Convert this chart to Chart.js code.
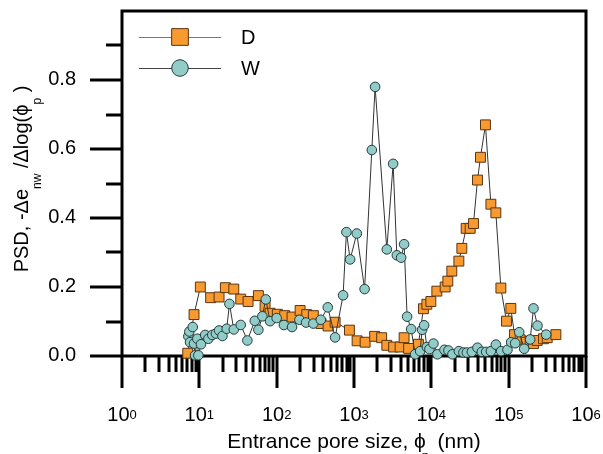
<!DOCTYPE html>
<html>
<head>
<meta charset="utf-8">
<script src="https://cdn.jsdelivr.net/npm/chart.js@4.4.1/dist/chart.umd.min.js"></script>
<style>html,body{margin:0;padding:0;background:#fff}canvas{display:block}</style>
</head>
<body>
<canvas id="psd" width="603" height="454"></canvas>
<script>
// ══════════════════════════════════════
//  DATA  (pore size in nm, PSD values)
// ══════════════════════════════════════
const dX=[7.08,8.54,10.3,14.0,18.0,21.7,27.9,34.3,42.7,58.0,70.8,82.2,102,127,158,201,245,298,375,462,570,873,1097,1393,1849,2277,2656,3252,3948,4446,5085,6808,7904,8750,9860,11780,15090,16340,18400,22700,24800,28200,31800,35100,39500,43200,50100,58900,68300,79300,93700,106700,118900,140900,168400,189700,209400,233800,282000,315000,408000];
const dY=[0.008,0.12,0.20,0.169,0.171,0.198,0.194,0.165,0.158,0.175,0.144,0.124,0.121,0.117,0.113,0.132,0.12,0.117,0.094,0.087,0.098,0.075,0.044,0.04,0.057,0.053,0.031,0.026,0.026,0.053,0.022,0.034,0.137,0.15,0.158,0.188,0.2,0.217,0.246,0.275,0.312,0.37,0.37,0.384,0.51,0.576,0.67,0.44,0.415,0.197,0.101,0.138,0.062,0.047,0.04,0.043,0.036,0.045,0.05,0.053,0.062];
const wX=[7.21,7.43,7.58,8.22,8.54,8.80,9.42,9.71,10.5,11.9,13.1,14.7,16.4,18.0,19.9,22.6,24.5,27.9,34.3,41.8,52.1,58.0,65.3,72.3,82.2,100,124,158,197,240,298,372,458,570,723,798,891,1087,1371,1700,1875,2656,3206,3580,4068,4446,4863,5481,6170,7160,7600,8070,8750,9450,10650,11990,14780,16630,18750,22700,26000,28800,33400,39500,45000,51200,58900,68300,80000,96500,107700,121400,136800,158700,189700,209400,236000,305500];
const wY=[0.057,0.071,0.04,0.084,0.036,0.002,0.05,0.002,0.034,0.061,0.05,0.061,0.065,0.074,0.058,0.079,0.151,0.077,0.09,0.045,0.102,0.076,0.115,0.164,0.101,0.11,0.09,0.084,0.105,0.097,0.094,0.105,0.141,0.054,0.176,0.359,0.28,0.355,0.194,0.597,0.78,0.309,0.557,0.292,0.285,0.324,0.114,0.078,0.005,0.014,0.076,0.089,0.026,0.02,0.036,0.005,0.018,0.016,0.005,0.014,0.01,0.01,0.012,0.024,0.012,0.012,0.014,0.033,0.014,0.018,0.04,0.037,0.069,0.021,0.048,0.138,0.088,0.062];
const xPow=[0,1,2,3,4,5,6];
const yMajor=[0,0.2,0.4,0.6,0.8], yMajorLbl=['0.0','0.2','0.4','0.6','0.8'];
const yMinor=[0.1,0.3,0.5,0.7,0.9];
const seriesNames=['D','W'];

const FONT='Arial, "Liberation Sans", sans-serif';
const ORANGE='#f99a31', ORANGE_B='#5a3510', TEAL='#91ccc8', TEAL_B='#233a3a';
const pts=(xs,ys)=>xs.map((x,i)=>({x,y:ys[i]}));

// ══════════════════════════════════════
//  FRAME, TICKS, LABELS, LEGEND
// ══════════════════════════════════════
function mixText(ctx,parts,x,y){
  // parts: [text, size, dy]
  let cx=x;
  parts.forEach(([t,s,dy])=>{ctx.font=s+'px '+FONT;ctx.fillText(t,cx,y+dy);cx+=ctx.measureText(t).width;});
}
function mixWidth(ctx,parts){
  return parts.reduce((a,[t,s])=>{ctx.font=s+'px '+FONT;return a+ctx.measureText(t).width;},0);
}
const axesPlugin={
  id:'axesPlugin',
  beforeDatasetsDraw(c){
    const {ctx,chartArea:a,scales:{x,y}}=c;
    const L=Math.round(a.left),R=Math.round(a.right),T=Math.round(a.top),B=Math.round(a.bottom);
    ctx.save();
    ctx.strokeStyle='#000';ctx.lineWidth=3;ctx.lineCap='butt';ctx.lineJoin='miter';
    ctx.beginPath();
    ctx.moveTo(L,B);ctx.lineTo(L,T);ctx.lineTo(R,T);ctx.lineTo(R,B);ctx.lineTo(L,B);
    ctx.closePath();ctx.stroke();
    ctx.beginPath();
    xPow.forEach(p=>{const px=Math.round(x.getPixelForValue(10**p));ctx.moveTo(px,B);ctx.lineTo(px,B+32);});
    xPow.slice(0,-1).forEach(p=>{for(let m=2;m<=9;m++){const px=Math.round(x.getPixelForValue(m*10**p));ctx.moveTo(px,B);ctx.lineTo(px,B+16);}});
    yMajor.forEach(v=>{const py=Math.round(y.getPixelForValue(v));ctx.moveTo(L-32,py);ctx.lineTo(L,py);});
    yMinor.forEach(v=>{const py=Math.round(y.getPixelForValue(v));ctx.moveTo(L-16,py);ctx.lineTo(L,py);});
    ctx.stroke();
    ctx.restore();
  },
  afterDraw(c){
    const {ctx,chartArea:a,scales:{x,y}}=c;
    ctx.save();
    ctx.fillStyle='#000';
    // y tick labels
    ctx.font='20px '+FONT;ctx.textAlign='right';ctx.textBaseline='middle';
    yMajor.forEach((v,i)=>ctx.fillText(yMajorLbl[i],a.left-46,y.getPixelForValue(v)-1));
    // x tick labels 10^n
    ctx.textAlign='left';ctx.textBaseline='alphabetic';
    xPow.forEach(p=>{
      const parts=[['10',20,0],[String(p),13,-2]];
      const w=mixWidth(ctx,parts);
      mixText(ctx,parts,x.getPixelForValue(10**p)-w/2,421);
    });
    // x title
    const xt=[['Entrance pore size, \u03d5',21,0],['  (nm)',21,0]];
    const xw=mixWidth(ctx,xt);
    const x0=(a.left+a.right)/2-xw/2;
    mixText(ctx,xt,x0,448);
    ctx.font='21px '+FONT;
    const phiEnd=x0+ctx.measureText(xt[0][0]).width;
    ctx.font='13px '+FONT;ctx.fillText('p',phiEnd-4,460);
    // y title (rotated)
    const yt=[['PSD, -\u0394e',20,0],['nw',12,13],[' /\u0394log(\u03d5',20,0],['p',12,13],[' )',20,0]];
    const yw=mixWidth(ctx,yt);
    ctx.save();ctx.translate(28,179);ctx.rotate(-Math.PI/2);
    mixText(ctx,yt,-yw/2,0);
    ctx.restore();
    // legend
    const leg=[{y:37,style:'rect',r:11.8,bg:ORANGE,bc:ORANGE_B,lc:'#777'},{y:68,style:'circle',r:8.3,bg:TEAL,bc:TEAL_B,lc:'#444'}];
    leg.forEach((g,i)=>{
      ctx.strokeStyle=g.lc;ctx.lineWidth=1;
      ctx.beginPath();ctx.moveTo(139,g.y+0.5);ctx.lineTo(221,g.y+0.5);ctx.stroke();
      ctx.fillStyle=g.bg;ctx.strokeStyle=g.bc;ctx.lineWidth=1;
      Chart.helpers.drawPoint(ctx,{pointStyle:g.style,radius:g.r,rotation:0,borderWidth:1},180,g.y);
      ctx.fillStyle='#000';ctx.font='20px '+FONT;ctx.textAlign='left';ctx.textBaseline='middle';
      ctx.fillText(seriesNames[i],241,g.y+1);
    });
    ctx.restore();
  }
};

new Chart(document.getElementById('psd'),{
  type:'scatter',
  data:{datasets:[
    {label:'W',data:pts(wX,wY),showLine:true,order:0,borderColor:'#333',borderWidth:1,
     pointStyle:'circle',pointRadius:4.8,pointBackgroundColor:TEAL,pointBorderColor:TEAL_B,pointBorderWidth:1,clip:false},
    {label:'D',data:pts(dX,dY),showLine:true,order:1,borderColor:'#333',borderWidth:1,
     pointStyle:'rect',pointRadius:7,pointBackgroundColor:ORANGE,pointBorderColor:ORANGE_B,pointBorderWidth:1,clip:false}
  ]},
  options:{
    responsive:false,animation:false,devicePixelRatio:1,
    layout:{padding:{top:11,right:17,left:0,bottom:0}},
    plugins:{legend:{display:false},tooltip:{enabled:false}},
    scales:{
      x:{type:'logarithmic',min:1,max:1e6,grid:{display:false},border:{display:false},ticks:{display:false},afterFit:s=>{s.height=98;}},
      y:{type:'linear',min:0,max:1,grid:{display:false},border:{display:false},ticks:{display:false},afterFit:s=>{s.width=122;}}
    }
  },
  plugins:[axesPlugin]
});
</script>
</body>
</html>
